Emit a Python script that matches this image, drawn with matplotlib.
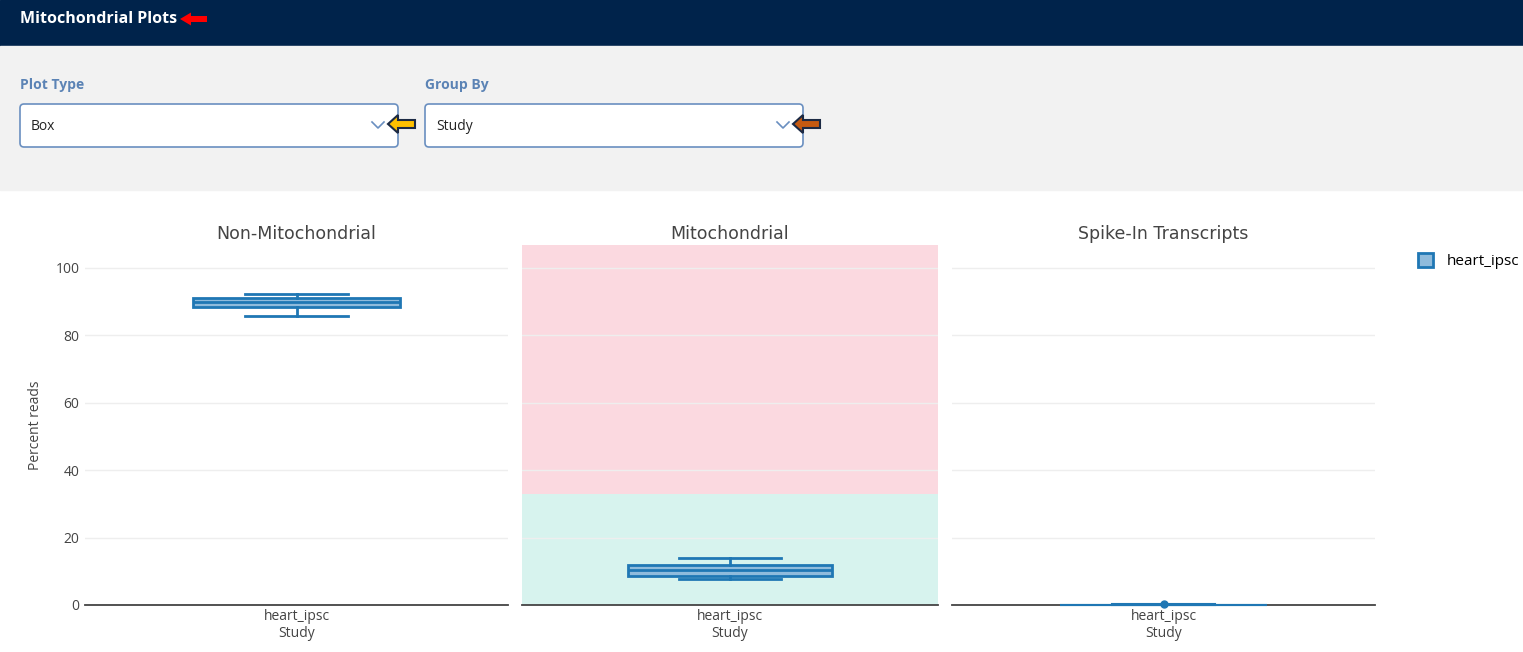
import matplotlib.pyplot as plt
from matplotlib.patches import Rectangle, FancyBboxPatch, FancyArrow, Patch

W, H = 1523, 652

# chart data (box stats)
panels = ['Non-Mitochondrial', 'Mitochondrial', 'Spike-In Transcripts']
group = 'heart_ipsc'
whislo = [85.8, 7.7, 0.0]
q1 = [88.3, 8.6, 0.0]
med = [89.9, 10.4, 0.05]
q3 = [91.1, 11.9, 0.1]
whishi = [92.3, 13.9, 0.15]
fliers = [[], [], [0.4]]
# shaded bands in the Mitochondrial panel
band_lo = [0, 33]
band_hi = [33, 107]
band_colors = ['#d7f3ee', '#fbd9e0']

yticks = [0, 20, 40, 60, 80, 100]
blue = '#1f77b4'

fig = plt.figure(figsize=(W / 100, H / 100), dpi=100)

# background axes in pixel coords for header and controls
bg = fig.add_axes([0, 0, 1, 1])
bg.set_xlim(0, W)
bg.set_ylim(H, 0)
bg.axis('off')
bg.add_patch(Rectangle((0, 0), W, 46, color='#00234b'))
bg.add_patch(Rectangle((0, 46), W, 144, color='#f2f2f2'))
bg.text(20, 19, 'Mitochondrial Plots', color='white', fontsize=11.5, fontweight='bold',
        va='center', family='Open Sans')
bg.add_patch(FancyArrow(207, 19, -27, 0, width=6, head_width=13, head_length=11,
                        length_includes_head=True, color='#ff0000', lw=0))


def dropdown(x, label, value, arrow_color):
    bg.text(x, 85, label, color='#5b83b5', fontsize=10, fontweight='bold', va='center',
            family='Open Sans')
    bg.add_patch(FancyBboxPatch((x, 104), 378, 43, boxstyle='round,pad=0,rounding_size=4',
                                fc='white', ec='#6a8fc0', lw=1.2))
    bg.text(x + 11, 127, value, color='#222222', fontsize=10, va='center', family='Open Sans')
    bg.plot([x + 352, x + 358, x + 364], [122, 128, 122], color='#6a8fc0', lw=1.2)
    bg.add_patch(FancyArrow(x + 395, 124, -27, 0, width=8, head_width=18, head_length=10,
                            length_includes_head=True, fc=arrow_color, ec='#1c2a44', lw=1.5))


dropdown(20, 'Plot Type', 'Box', '#ffc000')
dropdown(425, 'Group By', 'Study', '#c55a11')

# chart axes, pixel extents
lefts = [85, 522, 952]
rights = [508, 938, 1375]
top, bottom = 245, 605

for i, name in enumerate(panels):
    ax = fig.add_axes([lefts[i] / W, (H - bottom) / H, (rights[i] - lefts[i]) / W,
                       (bottom - top) / H])
    ax.set_xlim(-0.5, 0.5)
    ax.set_ylim(0, 106.8)
    if name == 'Mitochondrial':
        for lo, hi, c in zip(band_lo, band_hi, band_colors):
            ax.axhspan(lo, hi, color=c, lw=0, zorder=0)
    ax.set_yticks(yticks)
    ax.grid(axis='y', color='#eeeeee', lw=1, zorder=1)
    ax.set_axisbelow(True)
    stats = [dict(whislo=whislo[i], q1=q1[i], med=med[i], q3=q3[i], whishi=whishi[i],
                  fliers=fliers[i])]
    lw = 2 if i < 2 else 1.5
    parts = ax.bxp(stats, positions=[0], widths=0.49, capwidths=0.245, patch_artist=True,
                   boxprops=dict(facecolor='#8fbbdc', edgecolor=blue, lw=lw),
                   medianprops=dict(color=blue, lw=lw),
                   whiskerprops=dict(color=blue, lw=lw),
                   capprops=dict(color=blue, lw=lw),
                   flierprops=dict(marker='o', markerfacecolor=blue, markeredgecolor=blue,
                                   markersize=5))
    for art in sum(parts.values(), []):
        art.set_zorder(5)
        art.set_clip_on(False)
    ax.set_xticks([0])
    ax.set_xticklabels([group], fontsize=10, color='#444444', family='Open Sans')
    ax.set_xlabel('Study', fontsize=10, color='#444444', family='Open Sans', labelpad=1)
    ax.set_title(name, fontsize=12.5, color='#444444', pad=4, family='DejaVu Sans')
    for s in ['top', 'right', 'left']:
        ax.spines[s].set_visible(False)
    ax.spines['bottom'].set_color('#444444')
    ax.spines['bottom'].set_linewidth(1.3)
    ax.tick_params(axis='x', length=0, pad=3)
    ax.tick_params(axis='y', length=0, pad=4, labelsize=10, labelcolor='#444444')
    if i == 0:
        for lab in ax.get_yticklabels():
            lab.set_family('Open Sans')
        ax.set_ylabel('Percent reads', fontsize=10, color='#444444', family='Open Sans',
                      labelpad=9)
    else:
        ax.set_yticklabels([])

fig.legend(handles=[Patch(facecolor='#8fbbdc', edgecolor=blue, lw=2)], labels=[group],
           loc='center left', bbox_to_anchor=(1404 / W, (H - 261) / H), frameon=False,
           handlelength=1.0, handleheight=1.0, handletextpad=0.9,
           prop=dict(family='Open Sans', size=11))

fig.savefig('out.png', dpi=100)
